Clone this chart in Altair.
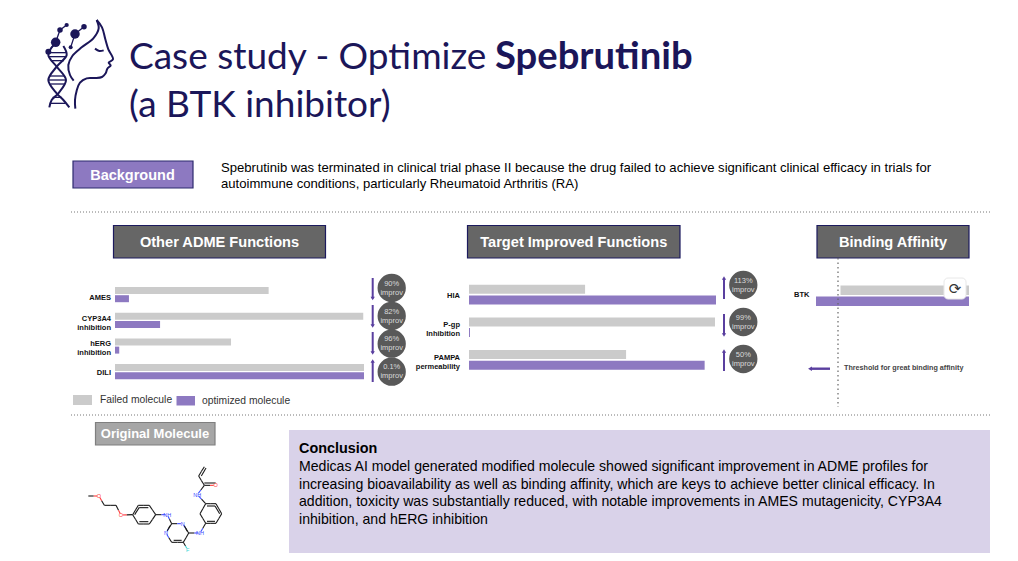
import altair as alt
import pandas as pd

OX, OY = 8, 8  # page margin
NAVY = "#1b1659"; PURPLE = "#8d79c1"; DPURPLE = "#5a3f9f"; GRAY = "#cbcbcb"; DARK = "#666666"

# ---- data ----
series = ["Failed molecule", "optimized molecule"]
adme_cats = ["AMES", "CYP3A4 inhibition", "hERG inhibition", "DILI"]
adme_failed = [61.7, 99.7, 46.6, 100.0]
adme_opt = [5.6, 18.1, 1.7, 100.0]
target_cats = ["HIA", "P-gp Inhibition", "PAMPA permeability"]
target_failed = [47.0, 99.6, 63.6]
target_opt = [100.0, 0.4, 95.4]
btk_cats = ["BTK"]
btk_failed = [84.0]
btk_opt = [100.0]

background_lines = [
    "Spebrutinib was terminated in clinical trial phase II because the drug failed to achieve significant clinical efficacy in trials for",
    "autoimmune conditions, particularly Rheumatoid Arthritis (RA)",
]
conclusion_lines = [
    "Medicas AI model generated modified molecule showed significant improvement in ADME profiles for",
    "increasing bioavailability as well as binding affinity, which are keys to achieve better clinical efficacy. In",
    "addition, toxicity was substantially reduced, with notable improvements in AMES mutagenicity, CYP3A4",
    "inhibition, and hERG inhibition",
]
adme_badges = ["90%", "82%", "96%", "0.1%"]
target_badges = ["113%", "99%", "50%"]

# logo strokes (in logo units)
logo_strokes = [
    [(170,30),(186,52),(196,88),(205,118),(219,148),(206,158),(212,166),(202,176),(197,190),(186,201),(163,204),(140,205),(120,218),(110,242),(105,270),(106,296)],
    [(170,30),(176,55),(160,85),(125,112),(97,138),(85,165),(90,195),(101,212)],
    [(165,116),(178,123),(191,121)],
    [(45,100),(25,135),(50,170),(78,210),(55,250),(35,270),(28,292)],
    [(70,108),(80,135),(50,170),(25,210),(50,250),(70,270),(88,292)],
]
logo_rungs = [(30,78,128),(27,79,140),(33,72,152),(30,74,198),(26,78,210),(31,74,222),(38,65,262),(30,76,280)]
logo_nodes = [(47,97,90),(25,125,35),(60,60,30),(80,45,18),(105,72,90),(132,50,30),(92,112,16)]
logo_links = [(47,97,60,60),(60,60,80,45),(105,72,132,50),(105,72,92,112),(47,97,25,125)]

# molecule drawing (atoms in molecule units: x, y, element)
atoms = {
    "c1":(85,243,"C"),"o1":(117,243,"O"),"c2":(133,271,"C"),"c3":(168,271,"C"),"o2":(183,300,"O"),
    "a1":(218,299,"C"),"a2":(235,271,"C"),"a3":(268,271,"C"),"a4":(287,299,"C"),"a5":(268,327,"C"),"a6":(235,327,"C"),
    "n1":(322,299,"NH"),"p2":(335,326,"C"),"p3":(368,326,"N"),"p4":(386,354,"C"),"p5":(370,382,"C"),"p6":(335,382,"C"),"p1":(318,354,"N"),
    "n2":(420,354,"NH"),"b1":(437,325,"C"),"b2":(420,296,"C"),"b3":(437,266,"C"),"b4":(468,266,"C"),"b5":(485,296,"C"),"b6":(468,325,"C"),
    "n3":(412,239,"NH"),"k1":(433,211,"C"),"o3":(467,211,"O"),"v1":(416,183,"C"),"v2":(433,155,"C"),"f":(383,404,"F"),
}
bonds = [("c1","o1"),("o1","c2"),("c2","c3"),("c3","o2"),("o2","a1"),("a1","a2"),("a2","a3"),("a3","a4"),("a4","a5"),("a5","a6"),("a6","a1"),
         ("a4","n1"),("n1","p2"),("p2","p3"),("p3","p4"),("p4","p5"),("p5","p6"),("p6","p1"),("p1","p2"),("p4","n2"),("n2","b1"),
         ("b1","b2"),("b2","b3"),("b3","b4"),("b4","b5"),("b5","b6"),("b6","b1"),("b3","n3"),("n3","k1"),("k1","o3"),("k1","v1"),("v1","v2"),("p5","f")]
double_lines = [(238,278,265,278),(238,320,265,320),(224,299,238,277),(441,273,465,273),(441,319,465,319),(479,296,465,273),
                (373,332,382,349),(341,376,365,376),(330,332,322,347),(433,204,467,204),(424,183,438,159)]
elem_color = {"C":"#1a1a1a","O":"#ff3b3b","NH":"#3b4dff","N":"#3b4dff","F":"#37d6d6"}

# ---- helpers ----
def px(rows):
    return [{k:(v-OX if k.startswith("x") else v-OY if k.startswith("y") else v) for k,v in r.items()} for r in rows]

def pxX(f): return alt.X(f"{f}:Q", scale=None, axis=None)
def pxY(f): return alt.Y(f"{f}:Q", scale=None, axis=None)

def text(rows, size, color="#000000", weight="normal", align="left", font="Liberation Sans"):
    d = pd.DataFrame(px([{"x":a,"y":b,"t":c} for a,b,c in rows]))
    return alt.Chart(d).mark_text(fontSize=size, color=color, fontWeight=weight, align=align, baseline="middle", font=font).encode(
        x=pxX("x"), y=pxY("y"), text="t:N")

def rect(x, x2, y, y2, fill, stroke=None, sw=1.0, corner=0):
    d = pd.DataFrame(px([{"x":x,"x2":x2,"y":y,"y2":y2}]))
    kw = dict(fill=fill, cornerRadius=corner)
    if stroke:
        kw.update(stroke=stroke, strokeWidth=sw)
    return alt.Chart(d).mark_rect(**kw).encode(x=pxX("x"), x2="x2:Q", y=pxY("y"), y2="y2:Q")

def dotted(x, x2, y, y2, color="#777777", sw=1.0, dash=(1,2)):
    d = pd.DataFrame(px([{"x":x,"x2":x2,"y":y,"y2":y2}]))
    return alt.Chart(d).mark_rule(color=color, strokeWidth=sw, strokeDash=list(dash)).encode(x=pxX("x"), x2="x2:Q", y=pxY("y"), y2="y2:Q")

def bars(cats, vals, color, xr, first_centre, step, thick):
    """One series of horizontal bars on a band scale whose bands are centred on the bars."""
    y0 = first_centre - step/2
    d = pd.DataFrame({"cat":cats, "v":vals})
    return alt.Chart(d).mark_bar(cornerRadius=0, height=thick, color=color).encode(
        x=alt.X("v:Q", scale=alt.Scale(domain=[0,100], range=[xr[0]-OX, xr[1]-OX]), axis=None),
        y=alt.Y("cat:N", sort=cats, scale=alt.Scale(domain=cats, range=[y0-OY, y0+step*len(cats)-OY], paddingInner=0, paddingOuter=0), axis=None),
    )

def arrows(items):
    """items: x, y_start, y_tip"""
    rr = pd.DataFrame(px([{"x":a,"y":b,"y2":c} for a,b,c in items]))
    tips = pd.DataFrame(px([{"x":a,"y":c,"s":"triangle-up" if c<b else "triangle-down"} for a,b,c in items]))
    return [
        alt.Chart(rr).mark_rule(color=DPURPLE, strokeWidth=2).encode(x=pxX("x"), y=pxY("y"), y2="y2:Q"),
        alt.Chart(tips).mark_point(filled=True, color=DPURPLE, size=18, opacity=1).encode(
            x=pxX("x"), y=pxY("y"), shape=alt.Shape("s:N", scale=None)),
    ]

def badges(xc, ys, labels):
    d = pd.DataFrame(px([{"x":xc,"y":y} for y in ys]))
    return [
        alt.Chart(d).mark_circle(color="#595959", size=800, opacity=1).encode(x=pxX("x"), y=pxY("y")),
        text([(xc,y-4.5,l) for y,l in zip(ys,labels)], 7.5, "#d9d9d9", align="center"),
        text([(xc,y+4.5,"improv") for y in ys], 7.5, "#d9d9d9", align="center"),
    ]

layers = []
# ---- title ----
layers += [
    text([(129,57.5,"Case study - Optimize"),(129,106,"(a BTK inhibitor)")], 37, NAVY, font="Lato"),
    text([(495,57.5,"Spebrutinib")], 38.2, NAVY, weight="bold", font="Lato"),
]
# ---- logo ----
lx = alt.Scale(domain=[0,255], range=[40-OX,125-OX])
ly = alt.Scale(domain=[0,300], range=[10-OY,110-OY])
stroke_rows = [{"s":i,"o":j,"x":p[0],"y":p[1]} for i,st in enumerate(logo_strokes) for j,p in enumerate(st)]
layers.append(alt.Chart(pd.DataFrame(stroke_rows)).mark_line(color=NAVY, strokeWidth=2, interpolate="catmull-rom").encode(
    x=alt.X("x:Q", scale=lx, axis=None), y=alt.Y("y:Q", scale=ly, axis=None), detail="s:N", order="o:Q"))
seg_rows = [{"x":a,"x2":b,"y":y,"y2":y} for a,b,y in logo_rungs] + [{"x":a,"y":b,"x2":c,"y2":d} for a,b,c,d in logo_links]
layers.append(alt.Chart(pd.DataFrame(seg_rows)).mark_rule(color=NAVY, strokeWidth=1.3).encode(
    x=alt.X("x:Q", scale=lx, axis=None), x2="x2:Q", y=alt.Y("y:Q", scale=ly, axis=None), y2="y2:Q"))
layers.append(alt.Chart(pd.DataFrame([{"x":a,"y":b,"s":c} for a,b,c in logo_nodes])).mark_circle(color=NAVY, opacity=1).encode(
    x=alt.X("x:Q", scale=lx, axis=None), y=alt.Y("y:Q", scale=ly, axis=None), size=alt.Size("s:Q", scale=None, legend=None)))

# ---- background ----
layers += [
    rect(73,193,161,188,PURPLE,"#2d2a6e",1.2),
    text([(132.5,175.5,"Background")],14.5,"#ffffff","bold","center"),
    text([(221,168,background_lines[0]),(221,184,background_lines[1])],13.1),
    dotted(71,990,212,212),
    dotted(71,990,415,415),
]
# ---- section headers ----
for x0,x1,label in [(113.5,325.5,"Other ADME Functions"),(467.5,680,"Target Improved Functions"),(817,969,"Binding Affinity")]:
    layers += [rect(x0,x1,225.5,258,DARK,"#1c1a5e",1.2), text([((x0+x1)/2,242.5,label)],14.6,"#ffffff","bold","center")]

# ---- bars ----
layers += [
    bars(adme_cats, adme_failed, GRAY, (115,364), 290.5, 25.7, 7),
    bars(adme_cats, adme_opt, PURPLE, (115,364), 298.7, 25.7, 7),
    bars(target_cats, target_failed, GRAY, (469,716), 289.3, 32.6, 9),
    bars(target_cats, target_opt, PURPLE, (469,716), 300, 32.6, 9),
    bars(btk_cats, btk_failed, GRAY, (969,816), 290.3, 20, 9.4),
    bars(btk_cats, btk_opt, PURPLE, (969,816), 301.3, 20, 9.4),
]

# ---- category labels ----
layers.append(text([(111,297.5,"AMES"),(111,319,"CYP3A4"),(111,327.7,"inhibition"),(111,344,"hERG"),(111,352.5,"inhibition"),(111,373,"DILI"),
                    (460,295.5,"HIA"),(460,325,"P-gp"),(460,333.5,"Inhibition"),(460,358,"PAMPA"),(460,367,"permeability"),
                    (809.5,295,"BTK")],7.5,"#111111","bold","right"))
# ---- arrows and badges ----
layers += arrows([(372.7,278,298.5),(372.7,305,326),(372.7,332,353),(372.7,382,361),(724,299,278),(724,314,335),(724,371,351)])
layers += badges(391.7,[288,316,343.7,371.7],adme_badges)
layers += badges(743.3,[285,322,359],target_badges)

# ---- legend ----
layers += [
    rect(73,92,395,405,GRAY), text([(100,400,"Failed molecule")],10.3,"#333333"),
    rect(176.5,195,396,405.5,PURPLE), text([(202,401,"optimized molecule")],10.3,"#333333"),
]
# ---- threshold ----
layers += [
    dotted(838,838,258,407,"#666666",1.2,(1.5,3)),
    alt.Chart(pd.DataFrame(px([{"x":811,"x2":830,"y":368.7}]))).mark_rule(color=DPURPLE,strokeWidth=2.4).encode(x=pxX("x"),x2="x2:Q",y=pxY("y")),
    alt.Chart(pd.DataFrame(px([{"x":810,"y":368.7}]))).mark_point(filled=True,color=DPURPLE,size=20,shape="triangle-left",opacity=1).encode(x=pxX("x"),y=pxY("y")),
    text([(844,367.5,"Threshold for great binding affinity")],7.2,"#444444","bold"),
    rect(944,966,278,299,"#ffffff","#e8e8e8",1,4),
    text([(955,288.5,"⟳")],15,"#333333","normal","center","DejaVu Sans"),
]
# ---- original molecule ----
layers += [rect(95.5,215,422.5,445,"#a6a6a6","#7f7f7f",1.2), text([(155,434,"Original Molecule")],13,"#ffffff","bold","center")]
mx = alt.Scale(domain=[0,720], range=[60-OX,300-OX])
my = alt.Scale(domain=[0,438], range=[415-OY,561-OY])
seg = []
for a,b in bonds:
    xa,ya,ea = atoms[a]; xb,yb,eb = atoms[b]
    xm,ym = (xa+xb)/2,(ya+yb)/2
    seg.append({"x":xa,"y":ya,"x2":xm,"y2":ym,"c":elem_color[ea]})
    seg.append({"x":xm,"y":ym,"x2":xb,"y2":yb,"c":elem_color[eb]})
for x1,y1,x2,y2 in double_lines:
    seg.append({"x":x1,"y":y1,"x2":x2,"y2":y2,"c":"#1a1a1a"})
layers.append(alt.Chart(pd.DataFrame(seg)).mark_rule(strokeWidth=1.1).encode(
    x=alt.X("x:Q",scale=mx,axis=None),x2="x2:Q",y=alt.Y("y:Q",scale=my,axis=None),y2="y2:Q",color=alt.Color("c:N",scale=None,legend=None)))
lab = pd.DataFrame([{"x":v[0],"y":v[1],"t":v[2],"c":elem_color[v[2]]} for v in atoms.values() if v[2]!="C"])
layers.append(alt.Chart(lab).mark_circle(color="#ffffff",size=14,opacity=1).encode(x=alt.X("x:Q",scale=mx,axis=None),y=alt.Y("y:Q",scale=my,axis=None)))
layers.append(alt.Chart(lab).mark_text(fontSize=5.5,font="Liberation Sans",baseline="middle").encode(
    x=alt.X("x:Q",scale=mx,axis=None),y=alt.Y("y:Q",scale=my,axis=None),text="t:N",color=alt.Color("c:N",scale=None,legend=None)))

# ---- conclusion ----
layers += [
    rect(289,990,430,553,"#d9d2e9"),
    text([(299,449,"Conclusion")],14.4,"#000000","bold"),
    text([(299,467,conclusion_lines[0]),(299,484.5,conclusion_lines[1]),(299,502,conclusion_lines[2]),(299,519.5,conclusion_lines[3])],14.1),
]

chart = alt.layer(*layers).resolve_scale(x="independent", y="independent", color="independent", size="independent", shape="independent").properties(
    width=1002, height=545, padding=0, autosize=alt.AutoSizeParams(type="none"), background="#ffffff"
).configure_view(stroke=None)
chart.save("out.html", embed_options={"renderer": "svg", "actions": False})
